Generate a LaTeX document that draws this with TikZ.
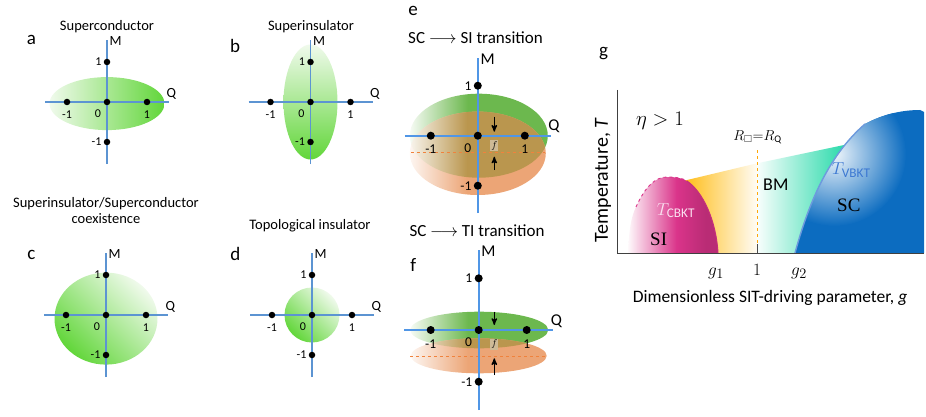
\documentclass[tikz,border=0pt]{standalone}
\usepackage{fontspec}
\setmainfont{Carlito}
\newfontfamily\phaseserif{Liberation Serif}
\usepackage{amsmath}
\usepackage{amssymb}
\usetikzlibrary{positioning, arrows, calc}

\definecolor{gdark}{RGB}{98,214,58}
\definecolor{glight}{RGB}{240,250,236}
\definecolor{qmblue}{RGB}{92,148,210}
\definecolor{qmbright}{RGB}{80,150,230}
\definecolor{egreen}{RGB}{108,184,78}
\definecolor{eorange}{RGB}{236,165,118}
\definecolor{eolive}{RGB}{186,150,78}
\definecolor{ftag}{RGB}{206,186,150}
\definecolor{dashorange}{RGB}{240,130,60}
\definecolor{sipink}{RGB}{218,52,138}
\definecolor{siamber}{RGB}{255,185,10}
\definecolor{bmteal}{RGB}{40,218,170}
\definecolor{scblue}{RGB}{12,108,192}
\definecolor{vbktblue}{RGB}{60,120,210}
\definecolor{cbktpink}{RGB}{250,225,240}

% colour ramps (the path is mapped on 25bp..75bp)
\pgfdeclarehorizontalshading{greenramp}{100bp}{color(0bp)=(egreen!6!white); color(25bp)=(egreen!6!white); color(46bp)=(egreen); color(100bp)=(egreen)}
\pgfdeclarehorizontalshading{orangeramp}{100bp}{color(0bp)=(eorange!10!white); color(25bp)=(eorange!10!white); color(46bp)=(eorange); color(100bp)=(eorange)}
\pgfdeclarehorizontalshading{oliveramp}{100bp}{color(0bp)=(eolive!10!white); color(25bp)=(eolive!10!white); color(46bp)=(eolive); color(100bp)=(eolive)}
\pgfdeclarehorizontalshading{pinkramp}{100bp}{color(0bp)=(sipink!3!white); color(25bp)=(sipink!3!white); color(52bp)=(sipink); color(68bp)=(sipink!85!black); color(100bp)=(sipink!85!black)}

% axes, dots and numbers of one Q-M plane (inside a shifted scope)
\newcommand{\qmplane}[1]{%
  \coordinate (#1xw) at (-1.55,0);
  \coordinate (#1xe) at (1.55,0);
  \coordinate (#1ys) at (0,-1.55);
  \coordinate (#1yn) at (0,1.55);
  \draw[qmaxis] (#1ys) -- (#1yn);
  \draw[qmaxis] (#1xw) -- (#1xe);
  \node[qmdot] (#1o) at (0,0) {};
  \node[qmdot] (#1l) at (-1,0) {};
  \node[qmdot] (#1r) at (1,0) {};
  \node[qmdot] (#1t) at (0,1) {};
  \node[qmdot] (#1b) at (0,-1) {};
  \node[qmnum, left=1.5pt of #1t] (#1tn) {1};
  \node[qmnum, left=1.5pt of #1b] (#1bn) {-1};
  \node[qmnum, below=4.5pt of #1l] (#1ln) {-1};
  \node[qmnum, below=4.5pt of #1r] (#1rn) {1};
  \node[qmnum, below left=4.5pt and 3pt of #1o] (#1on) {0};
  \node[qmlab, anchor=west] (#1M) at ([xshift=2pt,yshift=-1pt]#1yn) {M};
  \node[qmlab, anchor=south west] (#1Q) at ([xshift=-3pt,yshift=2pt]#1xe) {Q};
}

\begin{document}
\begin{tikzpicture}[x=1pt, y=-1pt,
  qmaxis/.style={draw=qmblue, line width=1.4pt},
  qmdot/.style={circle, fill=black, inner sep=0pt, minimum size=6.5pt},
  qmnum/.style={inner sep=0.5pt, font=\fontsize{12}{13}\selectfont},
  qmlab/.style={inner sep=0.5pt, font=\fontsize{14}{15}\selectfont},
  paneltitle/.style={anchor=base, align=center, inner sep=0pt, font=\fontsize{14.5}{15.5}\selectfont},
  panelletter/.style={anchor=base, inner sep=0pt, font=\fontsize{19}{20}\selectfont},
  squeeze/.style={->, >=stealth', line width=1.3pt},
  fbox/.style={fill=ftag, inner sep=1.2pt, font=\fontsize{10}{10}\selectfont},
  phase/.style={anchor=base west, inner sep=0pt, font=\fontsize{19}{20}\selectfont}]
  \useasboundingbox (0,0) rectangle (926,417);

  % ---- a ----
  \node[panelletter] (la) at (31.5,45) {a};
  \node[paneltitle] (ta) at (107,30.7) {Superconductor};
  \begin{scope}[shift={(107,102)}, x=40pt, y=40pt]
    \shade[left color=glight, middle color=gdark!80!glight, right color=gdark] (0,-0.04) ellipse [x radius=57.5pt, y radius=26.5pt];
    \qmplane{a}
  \end{scope}

  % ---- b ----
  \node[panelletter] (lb) at (235,52.7) {b};
  \node[paneltitle] (tb) at (311,30.7) {Superinsulator};
  \begin{scope}[shift={(310.5,102)}, x=40pt, y=40pt]
    \shade[top color=glight, middle color=gdark!80!glight, bottom color=gdark] (0,0) ellipse [x radius=27pt, y radius=57.5pt];
    \qmplane{b}
  \end{scope}

  % ---- c ----
  \node[panelletter] (lc) at (31.5,259.3) {c};
  \node[paneltitle] (tc) at (106,223.3) {Superinsulator/Superconductor\\coexistence};
  \begin{scope}[shift={(106,315)}, x=40pt, y=40pt]
    \shade[top color=glight, middle color=gdark!85!glight, bottom color=gdark, shading angle=-45] (0,-0.09) ellipse [x radius=51.5pt, y radius=46pt];
    \qmplane{c}
  \end{scope}

  % ---- d ----
  \node[panelletter] (ld) at (235.3,260) {d};
  \node[paneltitle] (td) at (310,229) {Topological insulator};
  \begin{scope}[shift={(312,315)}, x=40pt, y=40pt]
    \shade[top color=glight, middle color=gdark!85!glight, bottom color=gdark, shading angle=-45] (0,0) circle (27.5pt);
    \qmplane{d}
  \end{scope}

  % ---- e ----
  \node[panelletter] (le) at (413,16) {e};
  \node[anchor=base west, inner sep=0pt, font=\fontsize{17}{18}\selectfont] (te) at (408,44) {SC $\longrightarrow$ SI transition};
  \begin{scope}[shift={(477.8,135.7)}, x=47pt, y=50pt,
      qmaxis/.style={draw=qmbright, line width=1.7pt},
      qmdot/.style={circle, fill=black, inner sep=0pt, minimum size=8pt},
      qmnum/.style={inner sep=0.5pt, font=\fontsize{13.5}{14}\selectfont},
      qmlab/.style={inner sep=0.5pt, font=\fontsize{16.5}{17}\selectfont}]
    \shade[shading=greenramp] (1pt,0) ellipse [x radius=69pt, y radius=42pt];
    \shade[shading=orangeramp] (0,-17.6pt) ellipse [x radius=68pt, y radius=41.7pt];
    \begin{scope}
      \clip (1pt,0) ellipse [x radius=69pt, y radius=42pt];
      \shade[shading=oliveramp] (0,-17.6pt) ellipse [x radius=68pt, y radius=41.7pt];
    \end{scope}
    \coordinate (edl) at (-66.8pt,-17pt);
    \coordinate (edr) at (67.2pt,-17pt);
    \draw[dashorange, dashed, line width=1pt] (edl) -- (edr);
    \qmplane{e}
    \node[fbox] (ef) at (16.5pt,-10pt) {$f$};
    \coordinate (ea1) at (16.5pt,19pt);
    \coordinate (ea2) at (16.5pt,4pt);
    \coordinate (ea3) at (16.5pt,-34.3pt);
    \coordinate (ea4) at (16.5pt,-21pt);
    \draw[squeeze] (ea1) -- (ea2);
    \draw[squeeze] (ea3) -- (ea4);
  \end{scope}

  % ---- f ----
  \node[panelletter] (lf) at (413.3,271.7) {f};
  \node[anchor=base west, inner sep=0pt, font=\fontsize{17}{18}\selectfont] (tf) at (409.3,236.7) {SC $\longrightarrow$ TI transition};
  \begin{scope}[shift={(478.7,330)}, x=48pt, y=51.7pt,
      qmaxis/.style={draw=qmbright, line width=1.7pt},
      qmdot/.style={circle, fill=black, inner sep=0pt, minimum size=8pt},
      qmnum/.style={inner sep=0.5pt, font=\fontsize{13.5}{14}\selectfont},
      qmlab/.style={inner sep=0.5pt, font=\fontsize{16.5}{17}\selectfont}]
    \shade[shading=greenramp] (0.5pt,0) ellipse [x radius=69pt, y radius=18.3pt];
    \shade[shading=orangeramp] (0,-25.8pt) ellipse [x radius=68pt, y radius=17.5pt];
    \begin{scope}
      \clip (0.5pt,0) ellipse [x radius=69pt, y radius=18.3pt];
      \shade[shading=oliveramp] (0,-25.8pt) ellipse [x radius=68pt, y radius=17.5pt];
    \end{scope}
    \coordinate (fdl) at (-68.7pt,-26.7pt);
    \coordinate (fdr) at (68pt,-26.7pt);
    \draw[dashorange, dashed, line width=1pt] (fdl) -- (fdr);
    \qmplane{f}
    \node[fbox] (ff) at (15.6pt,-14.3pt) {$f$};
    \coordinate (fa1) at (15.6pt,18.3pt);
    \coordinate (fa2) at (15.6pt,5pt);
    \coordinate (fa3) at (15.6pt,-45pt);
    \coordinate (fa4) at (15.6pt,-28.3pt);
    \draw[squeeze] (fa1) -- (fa2);
    \draw[squeeze] (fa3) -- (fa4);
  \end{scope}

  % ---- g ----
  \node[panelletter] (lg) at (603.5,56.7) {g};
  % regions
  \shade[left color=siamber, right color=siamber!4!white] (680,181.7) -- (757,163.3) -- (757,253) -- (700,253) -- cycle;
  \shade[left color=bmteal!3!white, right color=bmteal] (757,163.3) -- (845,144.8) -- (845,253) -- (757,253) -- cycle;
  \shade[shading=pinkramp]
    (628,253) .. controls (629,230) and (631,217) .. (636,207)
    .. controls (645,187) and (655,177) .. (667,177)
    .. controls (676,177) and (682,178) .. (687,181)
    .. controls (703,192) and (716,220) .. (718,253) -- cycle;
  \fill[scblue] (795,253) .. controls (812,190) and (835,150) .. (865,124)
    .. controls (885,113) and (905,110) .. (920,110) -- (924,112) -- (924,253) -- cycle;
  \begin{scope}
    \clip (795,253) .. controls (812,190) and (835,150) .. (865,124)
      .. controls (885,113) and (905,110) .. (920,110) -- (924,112) -- (924,253) -- cycle;
    \shade[inner color=scblue!6!white, outer color=scblue] (834,154) circle (72);
  \end{scope}
  \coordinate (scbase) at (795,253);
  \coordinate (sctip) at (865,124);
  \draw[vbktblue!75!white, line width=1.4pt] (scbase) .. controls (812,190) and (835,150) .. (sctip);
  % boundaries of SI
  \coordinate (siB) at (636,207);
  \coordinate (siD) at (687,181);
  \coordinate (siE) at (718,253);
  \draw[sipink, dashed, line width=0.9pt] (siB) .. controls (645,187) and (655,177) .. (667,177)
    .. controls (676,177) and (682,178) .. (siD);
  \draw[sipink!90!black, line width=1pt] (siD) .. controls (703,192) and (716,220) .. (siE);
  % R = RQ line
  \coordinate (rqtop) at (757,150);
  \coordinate (rqmid) at (757,244);
  \coordinate (rqbot) at (757,253);
  \draw[siamber!70!orange, dashed, line width=0.9pt] (rqtop) -- (rqmid);
  \draw[black!70, line width=0.9pt] (rqmid) -- (rqbot);
  % axes
  \coordinate (gtop) at (617.5,90);
  \coordinate (gorig) at (617.5,253);
  \coordinate (gend) at (924,253);
  \draw[black!75, line width=0.9pt] (gtop) -- (gorig) -- (gend);
  % labels
  \node[rotate=90, inner sep=0pt, font=\fontsize{20}{21}\selectfont] (ylab) at (603,180) {Temperature, \textit{T}};
  \node[anchor=base, inner sep=0pt, font=\fontsize{17.5}{18}\selectfont] (xlab) at (770,302) {Dimensionless SIT-driving parameter, \textit{g}};
  \node[anchor=base west, inner sep=0pt, font=\fontsize{20}{21}\selectfont] (eta) at (636,126) {$\eta > 1$};
  \node[anchor=base, inner sep=0pt, font=\fontsize{14.5}{15}\selectfont] (rq) at (757.5,140) {$R_{\square}{=}R_{\mathrm{Q}}$};
  \node[phase, text=cbktpink] (tcbkt) at (656.7,215) {$T_{\mathrm{CBKT}}$};
  \node[phase] (si) at (650,245) {\phaseserif SI};
  \node[phase, font=\fontsize{18}{19}\selectfont] (bm) at (763,190) {BM};
  \node[phase, text=vbktblue] (tvbkt) at (831.7,175) {$T_{\mathrm{VBKT}}$};
  \node[phase] (sc) at (837,211.7) {\phaseserif SC};
  \node[anchor=base, inner sep=0pt, font=\fontsize{19}{20}\selectfont] (g1) at (716,275) {$g_1$};
  \node[anchor=base, inner sep=0pt, font=\fontsize{19}{20}\selectfont] (gone) at (757,275) {$1$};
  \node[anchor=base, inner sep=0pt, font=\fontsize{19}{20}\selectfont] (g2) at (799,275) {$g_2$};
\end{tikzpicture}
\end{document}
